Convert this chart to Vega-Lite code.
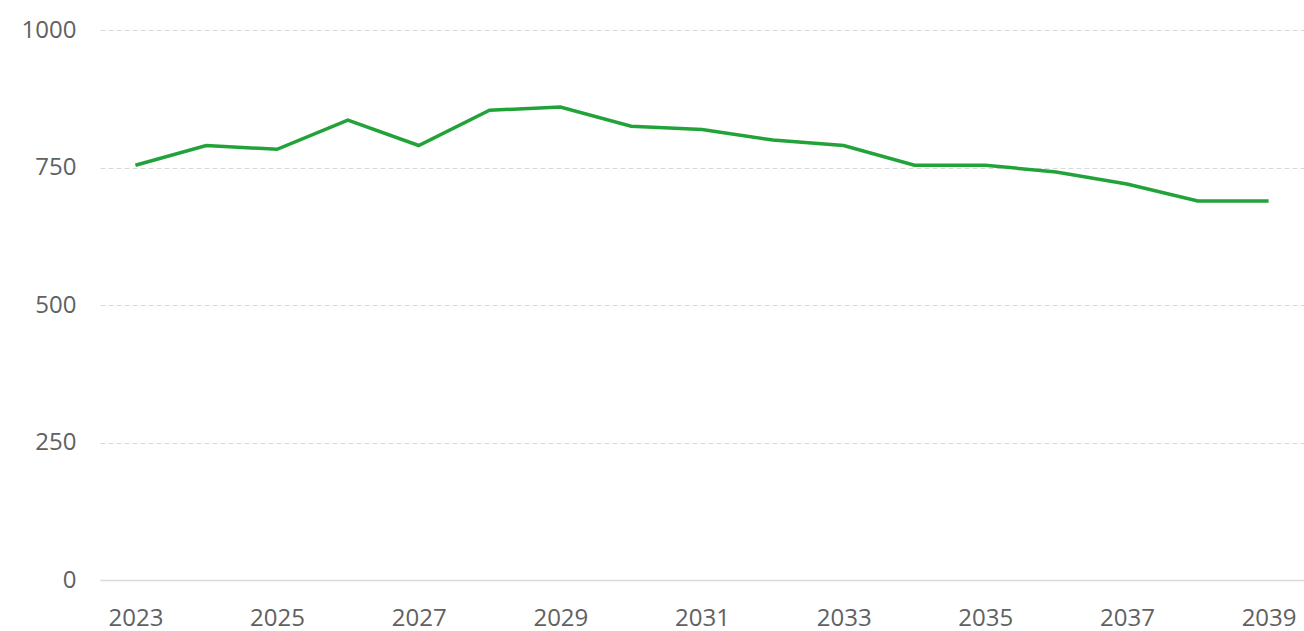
{
  "$schema": "https://vega.github.io/schema/vega-lite/v6.json",
  "autosize": {"type": "none"},
  "width": 1204,
  "height": 550,
  "padding": {"left": 100, "top": 30, "right": 0, "bottom": 51},
  "background": "white",
  "config": {"view": {"stroke": null}},
  "data": {"values": [
    {"year": 2023, "value": 754},
    {"year": 2024, "value": 790},
    {"year": 2025, "value": 783},
    {"year": 2026, "value": 836},
    {"year": 2027, "value": 790},
    {"year": 2028, "value": 854},
    {"year": 2029, "value": 860},
    {"year": 2030, "value": 825},
    {"year": 2031, "value": 819},
    {"year": 2032, "value": 800},
    {"year": 2033, "value": 790},
    {"year": 2034, "value": 754},
    {"year": 2035, "value": 754},
    {"year": 2036, "value": 742},
    {"year": 2037, "value": 720},
    {"year": 2038, "value": 689},
    {"year": 2039, "value": 689}
  ]},
  "mark": {"type": "line", "color": "#22A33A", "strokeWidth": 3.5, "strokeJoin": "miter"},
  "encoding": {
    "x": {
      "field": "year", "type": "quantitative",
      "scale": {"domain": [2022.5, 2039.5], "nice": false, "zero": false},
      "axis": {
        "title": null, "grid": false, "ticks": false,
        "values": [2023, 2025, 2027, 2029, 2031, 2033, 2035, 2037, 2039],
        "format": "d",
        "domainColor": "#d9d9d9", "domainWidth": 1.5,
        "labelFont": "Open Sans", "labelFontSize": 24, "labelColor": "#616161",
        "labelPadding": 26, "labelFlush": false, "labelOverlap": false
      }
    },
    "y": {
      "field": "value", "type": "quantitative",
      "scale": {"domain": [0, 1000], "nice": false},
      "axis": {
        "title": null, "domain": false, "ticks": false,
        "values": [0, 250, 500, 750, 1000],
        "format": "d",
        "gridColor": "#d9d9d9", "gridWidth": 1,
        "gridDash": {"condition": {"test": "datum.value === 0", "value": []}, "value": [5, 3]},
        "labelFont": "Open Sans", "labelFontSize": 24, "labelColor": "#616161",
        "labelPadding": 24, "labelFlush": false, "labelOverlap": false
      }
    }
  }
}
